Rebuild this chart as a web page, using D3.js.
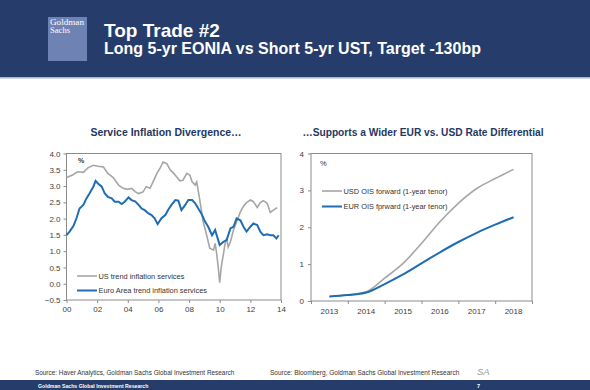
<!DOCTYPE html>
<html>
<head>
<meta charset="utf-8">
<script src="https://cdn.jsdelivr.net/npm/d3@7"></script>
<style>
  body { margin: 0; background: #fff; }
  svg { display: block; font-family: "Liberation Sans", Arial, sans-serif; }
</style>
</head>
<body>
<div id="chart-area"></div>
<script>
const width = 590;
const height = 390;

// left chart: service inflation, %
const usYears = [2000.0, 2000.2, 2000.4, 2000.6, 2000.75, 2001.1, 2001.4, 2001.75, 2002.05, 2002.4, 2002.7, 2003.05, 2003.4, 2003.7, 2004.0,
    2004.25, 2004.5, 2004.7, 2005.0, 2005.2, 2005.45, 2005.65, 2005.9, 2006.1, 2006.3, 2006.55, 2006.75, 2007.0, 2007.2,
    2007.4, 2007.6, 2007.85, 2008.05, 2008.2, 2008.4, 2008.5, 2008.7, 2008.9, 2009.15, 2009.35, 2009.6, 2009.7, 2009.8,
    2009.9, 2010.0, 2010.1, 2010.25, 2010.35, 2010.45, 2010.55, 2010.7, 2010.9, 2011.1, 2011.35, 2011.55, 2011.75, 2012.0,
    2012.2, 2012.45, 2012.65, 2012.85, 2013.1, 2013.3, 2013.5, 2013.75];
const usValues = [3.26, 3.30, 3.34, 3.40, 3.44, 3.42, 3.56, 3.64, 3.61, 3.59, 3.39, 3.26, 3.03, 2.93, 2.90,
    2.93, 2.82, 2.77, 2.82, 2.98, 2.93, 3.13, 3.39, 3.54, 3.74, 3.69, 3.51, 3.39, 3.28,
    3.16, 3.18, 3.39, 3.34, 3.13, 3.03, 3.13, 2.57, 1.95, 1.49, 1.09, 1.03, 1.24, 0.93,
    0.52, 0.03, 0.52, 0.93, 1.24, 1.39, 1.13, 1.29, 1.65, 1.90, 2.21, 2.38, 2.49, 2.57,
    2.52, 2.34, 2.49, 2.55, 2.47, 2.19, 2.26, 2.34];

const euYears = [2000.0, 2000.2, 2000.45, 2000.65, 2000.85, 2001.1, 2001.3, 2001.5, 2001.75, 2001.9, 2002.05, 2002.3, 2002.5, 2002.7,
    2002.95, 2003.15, 2003.4, 2003.6, 2003.8, 2004.05, 2004.25, 2004.5, 2004.7, 2004.9, 2005.1, 2005.35, 2005.55, 2005.75,
    2005.95, 2006.2, 2006.45, 2006.65, 2006.85, 2007.1, 2007.3, 2007.5, 2007.75, 2007.95, 2008.2, 2008.4, 2008.6, 2008.8,
    2009.05, 2009.25, 2009.5, 2009.7, 2009.9, 2010.0, 2010.25, 2010.45, 2010.7, 2010.9, 2011.1, 2011.35, 2011.55, 2011.75,
    2012.0, 2012.2, 2012.45, 2012.65, 2012.85, 2013.1, 2013.3, 2013.5, 2013.7, 2013.85];
const euValues = [1.49, 1.60, 1.77, 2.01, 2.31, 2.42, 2.62, 2.77, 2.98, 3.16, 3.08, 2.98, 2.77, 2.67,
    2.62, 2.52, 2.52, 2.45, 2.52, 2.65, 2.57, 2.52, 2.42, 2.31, 2.26, 2.16, 2.11, 2.01,
    1.83, 2.01, 2.11, 2.28, 2.42, 2.57, 2.55, 2.26, 2.42, 2.57, 2.57, 2.47, 2.31, 2.16,
    1.90, 1.75, 1.49, 1.65, 1.34, 1.19, 1.29, 1.34, 1.70, 1.75, 2.01, 1.95, 1.75, 1.60,
    1.75, 1.85, 1.80, 1.60, 1.49, 1.52, 1.49, 1.49, 1.39, 1.49];

const leftYTicks = [-0.5, 0, 0.5, 1, 1.5, 2, 2.5, 3, 3.5, 4];
const leftXTicks = [2000, 2002, 2004, 2006, 2008, 2010, 2012, 2014];

// right chart: OIS forwards, %
const oisYears = [2013, 2013.5, 2014, 2014.5, 2015, 2015.5, 2016, 2016.5, 2017, 2017.5, 2018];
const usdOis = [0.12, 0.17, 0.25, 0.62, 1.02, 1.56, 2.15, 2.65, 3.05, 3.32, 3.57];
const eurOis = [0.12, 0.16, 0.23, 0.46, 0.72, 1.02, 1.32, 1.60, 1.85, 2.07, 2.27];
const rightYTicks = [0, 1, 2, 3, 4];
const rightXLabels = [2013, 2014, 2015, 2016, 2017, 2018];

const navy = "#263d6b";
const grey = "#a6a6a6";
const blue = "#1f6db3";
const frame = "#8c8c8c";
const tickText = "#404040";

const svg = d3.select("#chart-area")
    .append("svg")
    .attr("width", width)
    .attr("height", height);

// header
svg.append("rect").attr("x", 0).attr("y", 0).attr("width", width).attr("height", 77).attr("fill", navy);
svg.append("rect").attr("x", 0).attr("y", 77).attr("width", width).attr("height", 1.5).attr("fill", "#a9b6cf");
svg.append("rect").attr("x", 48).attr("y", 17).attr("width", 39).attr("height", 44).attr("fill", "#6e82b4");
svg.append("text").attr("x", 50).attr("y", 25).text("Goldman")
    .attr("textLength", 34).attr("lengthAdjust", "spacingAndGlyphs")
    .style("font-family", "'Liberation Serif', serif").style("font-size", "7.5px").attr("fill", "#fff");
svg.append("text").attr("x", 50).attr("y", 32.5).text("Sachs")
    .attr("textLength", 20).attr("lengthAdjust", "spacingAndGlyphs")
    .style("font-family", "'Liberation Serif', serif").style("font-size", "7.5px").attr("fill", "#fff");
svg.append("text").attr("x", 104).attr("y", 37).text("Top Trade #2")
    .style("font-size", "19px").style("font-weight", "bold").attr("fill", "#fff");
svg.append("text").attr("x", 104).attr("y", 53.5).text("Long 5-yr EONIA vs Short 5-yr UST, Target -130bp")
    .style("font-size", "16px").style("font-weight", "bold").attr("fill", "#fff");

// footer
svg.append("rect").attr("x", 0).attr("y", 380).attr("width", width).attr("height", 10).attr("fill", navy);
svg.append("text").attr("x", 38).attr("y", 387.5).text("Goldman Sachs Global Investment Research")
    .style("font-size", "5.2px").style("font-weight", "bold").attr("fill", "#fff");
svg.append("text").attr("x", 477).attr("y", 387.5).text("7")
    .style("font-size", "5.5px").style("font-weight", "bold").attr("fill", "#fff");

svg.append("text").attr("x", 35).attr("y", 375).text("Source: Haver Analytics, Goldman Sachs Global Investment Research")
    .style("font-size", "6.4px").attr("fill", "#333");
svg.append("text").attr("x", 270).attr("y", 375).text("Source: Bloomberg, Goldman Sachs Global Investment Research")
    .style("font-size", "6.5px").attr("fill", "#333");
svg.append("text").attr("x", 477).attr("y", 375).text("SA")
    .style("font-size", "9.5px").style("font-style", "italic").attr("fill", "#9a9a9a");

// chart titles
svg.append("text").attr("x", 166).attr("y", 136).attr("text-anchor", "middle").text("Service Inflation Divergence…")
    .style("font-size", "10.5px").style("font-weight", "bold").attr("fill", "#1f3864");
svg.append("text").attr("x", 423).attr("y", 136).attr("text-anchor", "middle").text("…Supports a Wider EUR vs. USD Rate Differential")
    .style("font-size", "10.2px").style("font-weight", "bold").attr("fill", "#1f3864");

// ---------- left chart ----------
const x1 = d3.scaleLinear().domain([2000, 2014]).range([66.5, 281]);
const y1 = d3.scaleLinear().domain([-0.5, 4]).range([300, 153.5]);

const left = svg.append("g");

left.append("g")
    .attr("transform", `translate(${x1.range()[0]},0)`)
    .call(d3.axisLeft(y1).tickValues(leftYTicks).tickSize(3).tickPadding(3).tickFormat(d3.format(".1f")))
    .call(g => g.select(".domain").remove());

left.append("g")
    .attr("transform", `translate(0,${y1.range()[0]})`)
    .call(d3.axisBottom(x1).tickValues(leftXTicks).tickSize(3).tickPadding(3)
        .tickFormat(d => String(d % 100).padStart(2, "0")))
    .call(g => g.select(".domain").remove());

left.append("rect")
    .attr("x", x1.range()[0]).attr("y", y1.range()[1])
    .attr("width", x1.range()[1] - x1.range()[0]).attr("height", y1.range()[0] - y1.range()[1])
    .attr("fill", "none").attr("stroke", frame).attr("stroke-width", 1);

const line1 = d3.line().x(d => x1(d[0])).y(d => y1(d[1]));

left.append("path")
    .datum(d3.zip(usYears, usValues))
    .attr("d", line1).attr("fill", "none").attr("stroke", grey).attr("stroke-width", 1.6);
left.append("path")
    .datum(d3.zip(euYears, euValues))
    .attr("d", line1).attr("fill", "none").attr("stroke", blue).attr("stroke-width", 2);

left.append("text").attr("x", 78).attr("y", 163).text("%").style("font-size", "7px").style("font-weight", "bold").attr("fill", "#333");

const leftLegend = [
    { label: "US trend inflation services", color: grey, w: 1.6, y: 276 },
    { label: "Euro Area trend inflation services", color: blue, w: 2, y: 290.5 }
];
leftLegend.forEach(d => {
    left.append("line").attr("x1", 77).attr("x2", 97).attr("y1", d.y).attr("y2", d.y)
        .attr("stroke", d.color).attr("stroke-width", d.w);
    left.append("text").attr("x", 98.5).attr("y", d.y + 2.7).text(d.label)
        .style("font-size", "7.4px").attr("fill", "#333");
});

// ---------- right chart ----------
const x2 = d3.scaleLinear().domain([2012.5, 2018.5]).range([311, 532]);
const y2 = d3.scaleLinear().domain([0, 4]).range([301, 153.5]);

const right = svg.append("g");

right.append("g")
    .attr("transform", `translate(${x2.range()[0]},0)`)
    .call(d3.axisLeft(y2).tickValues(rightYTicks).tickSize(3).tickPadding(4).tickFormat(d3.format("d")))
    .call(g => g.select(".domain").remove());

// ticks on the year boundaries, labels in the middle of each year
const xAxis2 = right.append("g").attr("transform", `translate(0,${y2.range()[0]})`);
xAxis2.call(d3.axisBottom(x2).tickValues(d3.range(2012.5, 2018.6, 1)).tickSize(3).tickFormat(""))
    .call(g => g.select(".domain").remove());
xAxis2.selectAll(".yearlabel")
    .data(rightXLabels)
    .join("text")
    .attr("class", "yearlabel")
    .attr("x", d => x2(d)).attr("y", 12.5)
    .attr("text-anchor", "middle")
    .text(d => d)
    .style("font-size", "8px").attr("fill", tickText);

right.append("rect")
    .attr("x", x2.range()[0]).attr("y", y2.range()[1])
    .attr("width", x2.range()[1] - x2.range()[0]).attr("height", y2.range()[0] - y2.range()[1])
    .attr("fill", "none").attr("stroke", frame).attr("stroke-width", 1);

const line2 = d3.line().x(d => x2(d[0])).y(d => y2(d[1])).curve(d3.curveMonotoneX);

right.append("path")
    .datum(d3.zip(oisYears, usdOis))
    .attr("d", line2).attr("fill", "none").attr("stroke", grey).attr("stroke-width", 1.6);
right.append("path")
    .datum(d3.zip(oisYears, eurOis))
    .attr("d", line2).attr("fill", "none").attr("stroke", blue).attr("stroke-width", 2);

right.append("text").attr("x", 320).attr("y", 166).text("%").style("font-size", "7.5px").attr("fill", "#333");

const rightLegend = [
    { label: "USD OIS forward (1-year tenor)", color: grey, w: 1.6, y: 191 },
    { label: "EUR OIS fprward (1-year tenor)", color: blue, w: 2, y: 206.5 }
];
rightLegend.forEach(d => {
    right.append("line").attr("x1", 322).attr("x2", 342).attr("y1", d.y).attr("y2", d.y)
        .attr("stroke", d.color).attr("stroke-width", d.w);
    right.append("text").attr("x", 343.5).attr("y", d.y + 2.7).text(d.label)
        .style("font-size", "7.4px").attr("fill", "#333");
});

svg.selectAll(".tick text").style("font-size", "8px").attr("fill", tickText);
svg.selectAll(".tick line").attr("stroke", frame);
</script>
</body>
</html>
